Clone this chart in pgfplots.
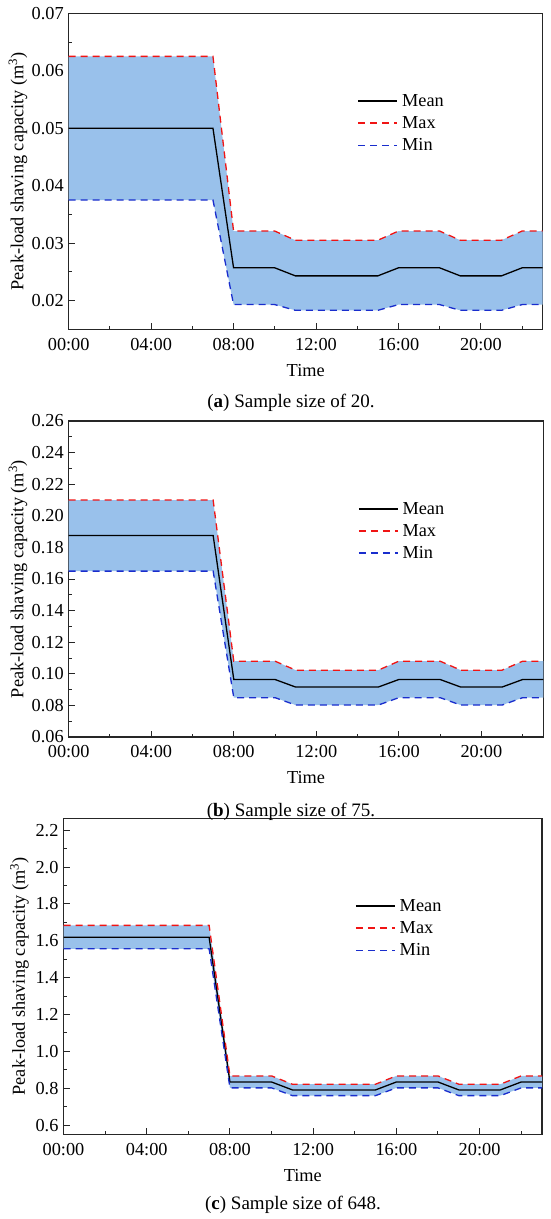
\documentclass[border=0pt]{standalone}
\usepackage{fontspec}
\setmainfont{Liberation Serif}
\usepackage{pgfplots}
\usepackage{pgfplotstable}
\pgfplotsset{compat=1.18}
\definecolor{bandblue}{RGB}{153,193,235}
\definecolor{maxred}{RGB}{240,20,20}
\definecolor{minblue}{RGB}{25,45,205}
\newcommand\ff{\fontsize{18.3}{22}\selectfont}

\pgfplotstableread{
t mean max min
0  0.0500 0.0625 0.0375
7  0.0500 0.0625 0.0375
8  0.0257 0.0321 0.0193
10 0.0257 0.0321 0.0193
11 0.0243 0.0305 0.0183
15 0.0243 0.0305 0.0183
16 0.0257 0.0321 0.0193
18 0.0257 0.0321 0.0193
19 0.0243 0.0305 0.0183
21 0.0243 0.0305 0.0183
22 0.0257 0.0321 0.0193
23 0.0257 0.0321 0.0193
}\tabA
\pgfplotstableread{
t mean max min
0  0.1876 0.2100 0.1650
7  0.1876 0.2100 0.1650
8  0.0964 0.1080 0.0849
10 0.0964 0.1080 0.0849
11 0.0916 0.1023 0.0802
15 0.0916 0.1023 0.0802
16 0.0964 0.1080 0.0849
18 0.0964 0.1080 0.0849
19 0.0916 0.1023 0.0802
21 0.0916 0.1023 0.0802
22 0.0964 0.1080 0.0849
23 0.0964 0.1080 0.0849
}\tabB
\pgfplotstableread{
t mean max min
0  1.619 1.684 1.557
7  1.619 1.684 1.557
8  0.834 0.867 0.802
10 0.834 0.867 0.802
11 0.791 0.822 0.760
15 0.791 0.822 0.760
16 0.834 0.867 0.802
18 0.834 0.867 0.802
19 0.791 0.822 0.760
21 0.791 0.822 0.760
22 0.834 0.867 0.802
23 0.834 0.867 0.802
}\tabC

\tikzset{
 meanline/.style={draw=black, line width=1.3pt},
 maxline/.style={draw=maxred, line width=1.3pt, dash pattern=on 7pt off 5pt},
 minline/.style={draw=minblue, line width=1.3pt, dash pattern=on 7pt off 5pt},
}
\pgfplotsset{legend image code/.code={\draw[#1, line width=1.5pt] (0pt,0pt) -- (39pt,0pt);}}
\pgfplotsset{
 panel/.style={
  scale only axis, height=316pt,
  xmin=0, xmax=23,
  xtick={0,4,8,12,16,20},
  xticklabels={00:00,04:00,08:00,12:00,16:00,20:00},
  minor xtick={2,6,10,14,18,22},
  minor y tick num=1,
  tick align=inside,
  tick pos=left,
  major tick length=6pt, minor tick length=3pt,
  axis line style={line width=1.1pt, black!85},
  tick style={line width=1pt, black!85},
  tick label style={font=\ff},
  label style={font=\ff},
  xticklabel style={yshift=-5pt},
  yticklabel style={xshift=-1.5pt},
  scaled y ticks=false,
  /pgf/number format/assume math mode=true,
  xlabel={Time},
  xlabel style={at={(axis description cs:0.5,0)}, anchor=center, yshift=-41pt},
  ylabel={Peak-load shaving capacity (m\textsuperscript{3})},
  legend style={draw=none, fill=none, font=\ff, at={(axis description cs:0.603,0.652)}, anchor=west, row sep=6.5pt, column sep=3pt, nodes={inner sep=1pt}},
  legend cell align=left,
 },
 band/.style={fill=bandblue, draw=none, forget plot},
 dec2/.style={yticklabel style={/pgf/number format/fixed, /pgf/number format/fixed zerofill, /pgf/number format/precision=2}},
 dec1/.style={yticklabel style={/pgf/number format/fixed, /pgf/number format/fixed zerofill, /pgf/number format/precision=1}},
}

\begin{document}
\begin{tikzpicture}
\path (0,0) rectangle (550pt,-1219pt);

% (a)
\begin{axis}[panel, dec2, width=474pt, at={(68.7pt,-13.3pt)}, anchor=north west,
  ymin=0.015, ymax=0.07,
  ytick={0.02,0.03,0.04,0.05,0.06,0.07},
  ylabel style={at={(axis description cs:0,0.5)}, anchor=center, yshift=50.7pt}]
\addplot[band] coordinates {(0,0.0625)(7,0.0625)(8,0.0321)(10,0.0321)(11,0.0305)(15,0.0305)(16,0.0321)(18,0.0321)(19,0.0305)(21,0.0305)(22,0.0321)(23,0.0321)
 (23,0.0193)(22,0.0193)(21,0.0183)(19,0.0183)(18,0.0193)(16,0.0193)(15,0.0183)(11,0.0183)(10,0.0193)(8,0.0193)(7,0.0375)(0,0.0375)};
\addplot[meanline] table[x=t,y=mean]{\tabA};
\addplot[maxline] table[x=t,y=max]{\tabA};
\addplot[minline] table[x=t,y=min]{\tabA};
\legend{Mean,Max,Min}
\end{axis}

% (b)
\begin{axis}[panel, dec2, width=474.6pt, at={(68.7pt,-421pt)}, anchor=north west,
  ymin=0.06, ymax=0.26,
  ytick={0.06,0.08,0.10,0.12,0.14,0.16,0.18,0.20,0.22,0.24,0.26},
  ylabel style={at={(axis description cs:0,0.5)}, anchor=center, yshift=50.7pt}]
\addplot[band] coordinates {(0,0.2100)(7,0.2100)(8,0.1080)(10,0.1080)(11,0.1023)(15,0.1023)(16,0.1080)(18,0.1080)(19,0.1023)(21,0.1023)(22,0.1080)(23,0.1080)
 (23,0.0849)(22,0.0849)(21,0.0802)(19,0.0802)(18,0.0849)(16,0.0849)(15,0.0802)(11,0.0802)(10,0.0849)(8,0.0849)(7,0.1650)(0,0.1650)};
\addplot[meanline] table[x=t,y=mean]{\tabB};
\addplot[maxline] table[x=t,y=max]{\tabB};
\addplot[minline] table[x=t,y=min]{\tabB};
\legend{Mean,Max,Min}
\end{axis}

% (c)
\begin{axis}[panel, dec1, width=478.5pt, at={(63.5pt,-818.3pt)}, anchor=north west,
  ymin=0.55, ymax=2.265,
  ytick={0.6,0.8,1.0,1.2,1.4,1.6,1.8,2.0,2.2},
  ylabel style={at={(axis description cs:0,0.5)}, anchor=center, yshift=44pt}]
\addplot[band] coordinates {(0,1.684)(7,1.684)(8,0.867)(10,0.867)(11,0.822)(15,0.822)(16,0.867)(18,0.867)(19,0.822)(21,0.822)(22,0.867)(23,0.867)
 (23,0.802)(22,0.802)(21,0.760)(19,0.760)(18,0.802)(16,0.802)(15,0.760)(11,0.760)(10,0.802)(8,0.802)(7,1.557)(0,1.557)};
\addplot[meanline] table[x=t,y=mean]{\tabC};
\addplot[maxline] table[x=t,y=max]{\tabC};
\addplot[minline] table[x=t,y=min]{\tabC};
\legend{Mean,Max,Min}
\end{axis}

\node[font=\fontsize{19}{22}\selectfont] at (291pt,-403pt) {(\textbf{a}) Sample size of 20.};
\node[font=\fontsize{19}{22}\selectfont] at (291pt,-811.5pt) {(\textbf{b}) Sample size of 75.};
\node[font=\fontsize{19}{22}\selectfont] at (293pt,-1205pt) {(\textbf{c}) Sample size of 648.};
\end{tikzpicture}
\end{document}
